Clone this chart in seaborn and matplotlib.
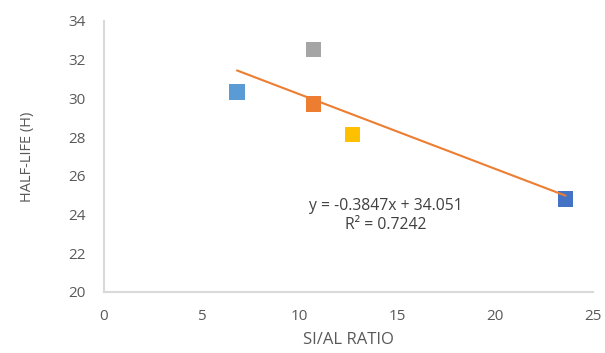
import numpy as np
import pandas as pd
import seaborn as sns
import matplotlib.pyplot as plt

# Data
si_al_ratio = [6.8, 10.7, 10.7, 12.7, 23.6]
half_life = [30.33, 32.5, 29.71, 28.11, 24.8]
samples = ["S1", "S2", "S3", "S4", "S5"]
colors = ["#5B9BD5", "#A5A5A5", "#ED7D31", "#FFC000", "#4472C4"]

df = pd.DataFrame({"x": si_al_ratio, "y": half_life, "sample": samples})

sns.set_theme(style="white")
plt.rcParams["font.family"] = ["Open Sans", "DejaVu Sans"]

fig = plt.figure(figsize=(6.05, 3.53), dpi=100)
ax = fig.add_axes([0.172, 0.173, 0.808, 0.768])

# Linear trendline
slope, intercept = np.polyfit(df["x"], df["y"], 1)
r2 = np.corrcoef(df["x"], df["y"])[0, 1] ** 2
xs = np.array([df["x"].min(), df["x"].max()])
ax.plot(xs, slope * xs + intercept, color="#ED7D31", lw=1.5, zorder=3)

sns.scatterplot(data=df, x="x", y="y", hue="sample", palette=colors,
                marker="s", s=120, edgecolor="none", legend=False, ax=ax, zorder=2)

ax.text(14.4, 23.95, "y = -0.3847x + 34.051\nR² = 0.7242", ha="center", va="center",
        fontsize=11.3, color="#404040", linespacing=1.3)

ax.set_xlim(0, 25)
ax.set_ylim(20, 34)
ax.set_xticks(range(0, 26, 5))
ax.set_yticks(range(20, 35, 2))
ax.tick_params(axis="x", length=0, labelsize=11, labelcolor="#595959", pad=12)
ax.tick_params(axis="y", length=0, labelsize=11, labelcolor="#595959", pad=13)
ax.set_xlabel("SI/AL RATIO", fontsize=12, color="#595959", labelpad=6)
ax.set_ylabel("HALF-LIFE (H)", fontsize=10.5, color="#595959", labelpad=24)

sns.despine(ax=ax)
for side in ["left", "bottom"]:
    ax.spines[side].set_color("#D9D9D9")
    ax.spines[side].set_linewidth(1.5)

fig.savefig("out.png", dpi=100)
